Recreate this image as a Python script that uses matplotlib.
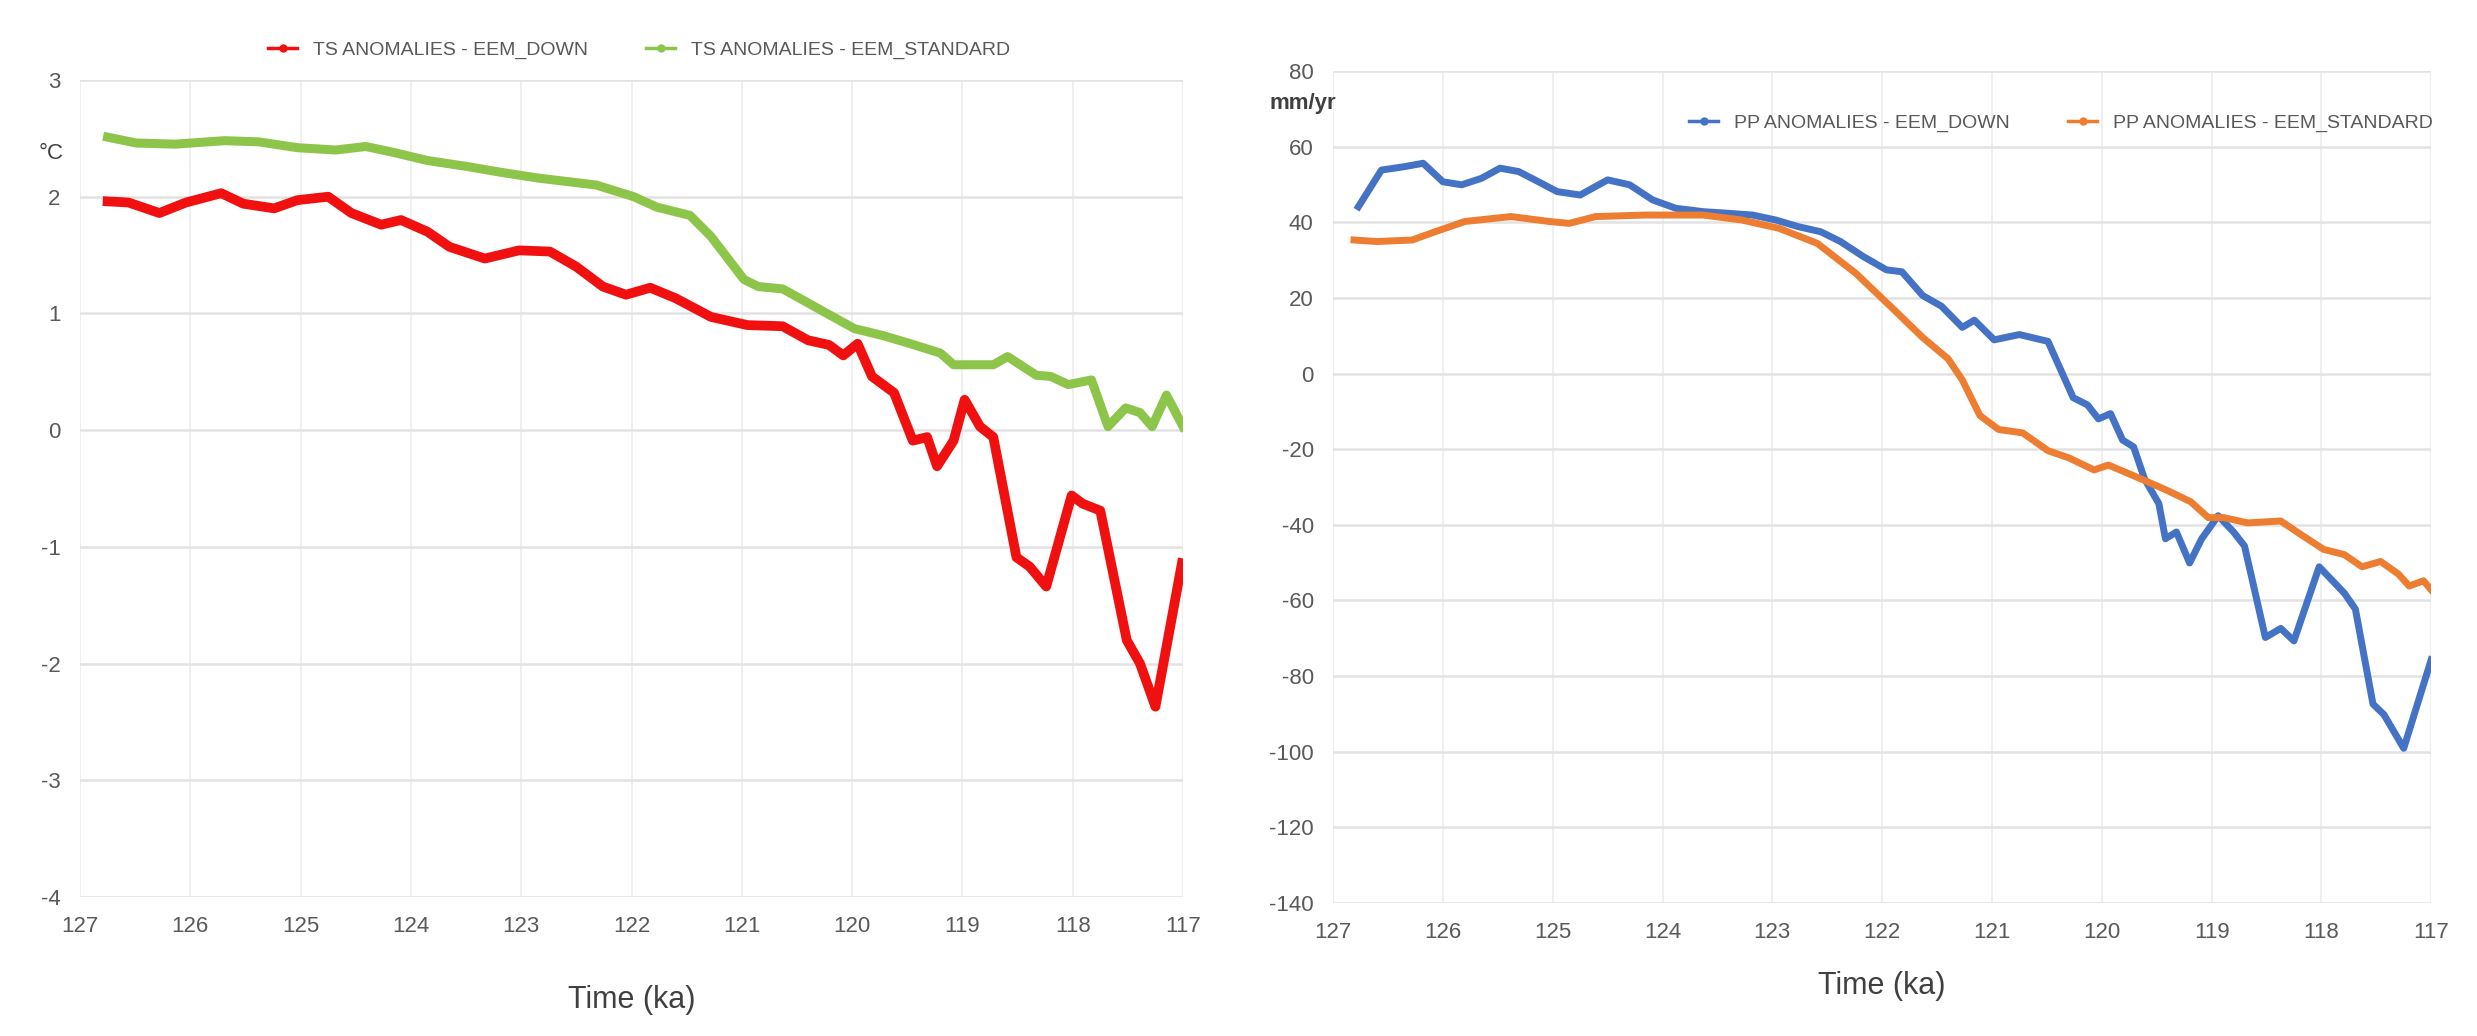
import matplotlib
matplotlib.use("Agg")
import matplotlib.pyplot as plt
from matplotlib.lines import Line2D

plt.rcParams['font.family'] = ['Liberation Sans Narrow', 'Liberation Sans', 'DejaVu Sans']
plt.rcParams['axes.unicode_minus'] = False

# --- TS anomalies (degC) ---
ts_down_t = [126.75, 126.56, 126.28, 126.04, 125.72, 125.52, 125.24, 125.03, 124.75, 124.54,
             124.27, 124.09, 123.85, 123.65, 123.33, 123.02, 122.74, 122.50, 122.26, 122.05,
             121.83, 121.60, 121.28, 120.95, 120.63, 120.40, 120.21, 120.08, 119.95, 119.82,
             119.62, 119.45, 119.32, 119.23, 119.08, 118.98, 118.84, 118.72, 118.51, 118.39,
             118.24, 118.01, 117.91, 117.75, 117.51, 117.39, 117.25, 117.01]
ts_down = [1.96, 1.95, 1.86, 1.95, 2.03, 1.94, 1.90, 1.97, 2.00, 1.86,
           1.76, 1.80, 1.70, 1.57, 1.47, 1.54, 1.53, 1.40, 1.23, 1.16,
           1.22, 1.13, 0.97, 0.90, 0.89, 0.77, 0.73, 0.64, 0.74, 0.46,
           0.32, -0.09, -0.06, -0.31, -0.09, 0.26, 0.03, -0.06, -1.09, -1.17,
           -1.34, -0.56, -0.63, -0.69, -1.80, -2.00, -2.37, -1.14]

ts_std_t = [126.75, 126.49, 126.14, 125.69, 125.38, 125.03, 124.68, 124.41, 124.16, 123.85,
            123.50, 123.19, 122.85, 122.32, 121.98, 121.77, 121.47, 121.28, 120.98, 120.85,
            120.63, 120.40, 120.21, 119.98, 119.72, 119.47, 119.20, 119.08, 118.72, 118.59,
            118.33, 118.20, 118.04, 117.83, 117.68, 117.52, 117.39, 117.28, 117.15, 117.00]
ts_std = [2.51, 2.46, 2.45, 2.48, 2.47, 2.42, 2.40, 2.43, 2.38, 2.31,
          2.26, 2.21, 2.16, 2.10, 2.00, 1.91, 1.84, 1.66, 1.29, 1.23,
          1.21, 1.09, 0.99, 0.87, 0.81, 0.74, 0.66, 0.56, 0.56, 0.63,
          0.47, 0.46, 0.39, 0.43, 0.03, 0.19, 0.15, 0.03, 0.30, 0.03]

# --- PP anomalies (mm/yr) ---
pp_down_t = [126.77, 126.56, 126.35, 126.18, 126.00, 125.83, 125.65, 125.48, 125.31, 125.13,
             124.96, 124.75, 124.50, 124.30, 124.09, 123.88, 123.63, 123.42, 123.18, 122.97,
             122.76, 122.56, 122.38, 122.17, 121.96, 121.82, 121.63, 121.46, 121.27, 121.16,
             120.98, 120.75, 120.49, 120.26, 120.13, 120.03, 119.92, 119.81, 119.71, 119.61,
             119.48, 119.42, 119.32, 119.20, 119.09, 118.94, 118.80, 118.70, 118.51, 118.37,
             118.25, 118.02, 117.79, 117.69, 117.53, 117.43, 117.25, 117.00]
pp_down = [44.1, 53.8, 54.7, 55.6, 50.7, 49.9, 51.6, 54.3, 53.4, 50.7,
           48.1, 47.2, 51.2, 49.9, 45.9, 43.7, 42.8, 42.4, 41.9, 40.6,
           38.8, 37.5, 34.9, 30.9, 27.4, 26.9, 20.6, 17.8, 12.2, 14.1,
           8.9, 10.3, 8.5, -6.4, -8.3, -12.0, -10.6, -17.6, -19.4, -27.9,
           -34.4, -43.7, -41.9, -50.1, -43.7, -37.6, -41.9, -45.6, -69.8, -67.4,
           -70.7, -51.1, -58.1, -62.3, -87.4, -90.2, -99.1, -75.7]

pp_std_t = [126.81, 126.60, 126.28, 126.07, 125.80, 125.38, 125.03, 124.85, 124.61, 124.16,
            123.63, 123.28, 122.94, 122.59, 122.24, 121.89, 121.63, 121.40, 121.27, 121.11,
            120.94, 120.72, 120.49, 120.30, 120.07, 119.94, 119.68, 119.42, 119.19, 119.03,
            118.89, 118.67, 118.37, 118.18, 117.98, 117.79, 117.63, 117.46, 117.30, 117.20,
            117.07, 117.00]
pp_std = [35.3, 34.9, 35.3, 37.5, 40.2, 41.5, 40.2, 39.7, 41.5, 41.9,
          41.9, 40.6, 38.4, 34.4, 26.5, 16.8, 9.5, 3.9, -1.7, -11.1,
          -14.8, -15.7, -20.4, -22.3, -25.5, -24.2, -27.4, -30.7, -33.9, -38.1,
          -38.1, -39.5, -39.0, -42.7, -46.5, -47.9, -51.1, -49.7, -53.0, -56.2,
          -54.8, -57.2]

x_ticks = list(range(127, 116, -1))

RED = '#f01010'
GREEN = '#8dc54a'
BLUE = '#4472c4'
ORANGE = '#ed7d31'
TXT = '#595959'

fig = plt.figure(figsize=(24.77, 10.36), dpi=100)
ax1 = fig.add_axes([0.0323, 0.1342, 0.4453, 0.7886])
ax2 = fig.add_axes([0.5382, 0.1284, 0.4433, 0.8031])


def style(ax, yticks, lpad):
    ax.set_xlim(127, 117)
    ax.set_xticks(x_ticks)
    ax.set_yticks(yticks)
    ax.set_ylim(yticks[0], yticks[-1])
    ax.yaxis.grid(True, color='#e2e2e2', linewidth=1.8)
    ax.xaxis.grid(True, color='#efefef', linewidth=1.4)
    ax.set_axisbelow(True)
    for s in ax.spines.values():
        s.set_visible(False)
    ax.tick_params(length=0, labelsize=16, colors=TXT, pad=14)
    ax.set_xlabel('Time (ka)', fontsize=22, color='#404040', labelpad=lpad)


style(ax1, list(range(-4, 4)), 34)
ax1.plot(ts_down_t, ts_down, color=RED, lw=7, solid_joinstyle='round')
ax1.plot(ts_std_t, ts_std, color=GREEN, lw=6.5, solid_joinstyle='round')
fig.text(0.0205, 0.852, '°C', fontsize=16, color='#404040', ha='center', va='center')

style(ax2, list(range(-140, 81, 20)), 20)
ax2.plot(pp_down_t, pp_down, color=BLUE, lw=5, solid_joinstyle='round')
ax2.plot(pp_std_t, pp_std, color=ORANGE, lw=5, solid_joinstyle='round')
fig.text(0.526, 0.90, 'mm/yr', fontsize=16, color='#404040', ha='center', va='center',
         fontweight='bold')

h1 = [Line2D([], [], color=RED, lw=2.5, marker='o', ms=5),
      Line2D([], [], color=GREEN, lw=2.5, marker='o', ms=5)]
fig.legend(h1, ['TS ANOMALIES - EEM_DOWN', 'TS ANOMALIES - EEM_STANDARD'],
           loc='center', bbox_to_anchor=(0.258, 0.952), ncol=2, frameon=False,
           fontsize=14, labelcolor=TXT, handlelength=1.5, columnspacing=3)

h2 = [Line2D([], [], color=BLUE, lw=2.5, marker='o', ms=5),
      Line2D([], [], color=ORANGE, lw=2.5, marker='o', ms=5)]
fig.legend(h2, ['PP ANOMALIES - EEM_DOWN', 'PP ANOMALIES - EEM_STANDARD'],
           loc='center', bbox_to_anchor=(0.832, 0.881), ncol=2, frameon=False,
           fontsize=14, labelcolor=TXT, handlelength=1.5, columnspacing=3)

fig.savefig('out.png', dpi=100, facecolor='white')
